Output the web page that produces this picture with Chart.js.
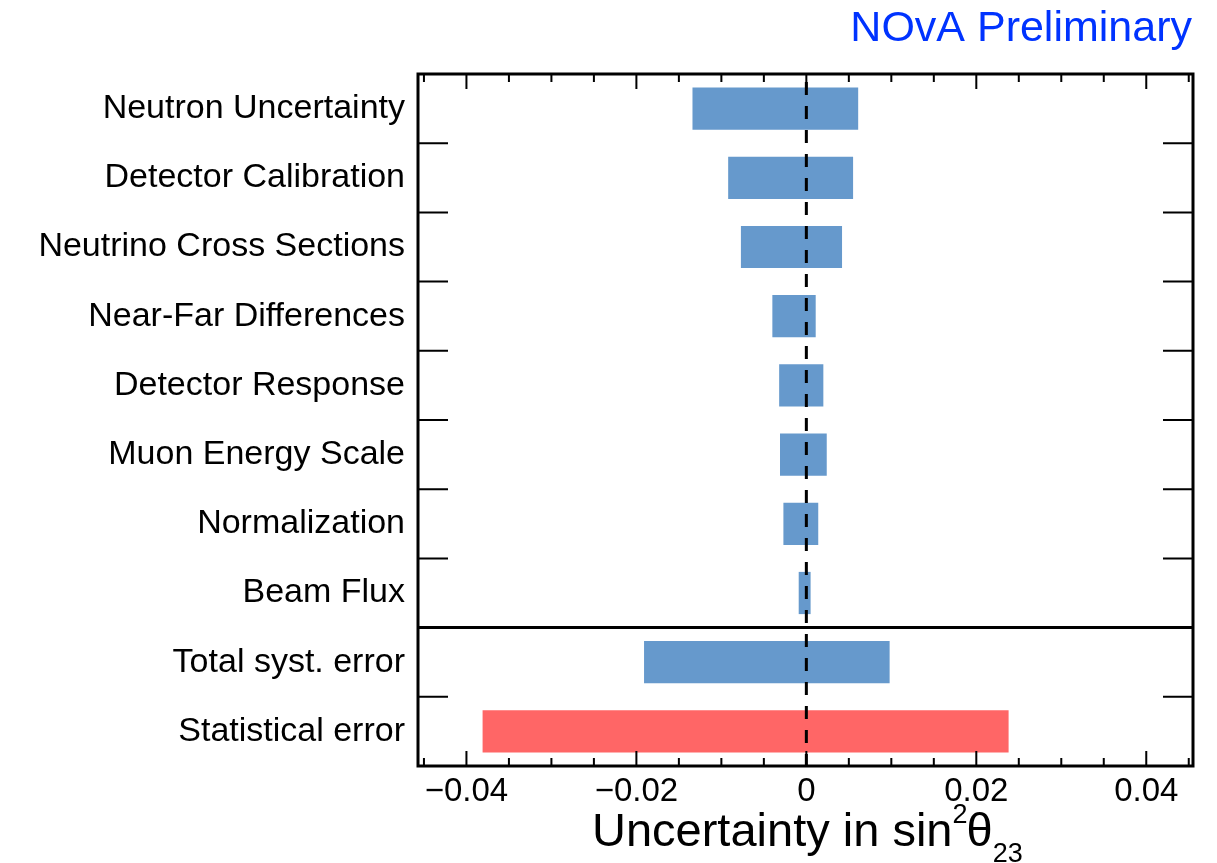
<!DOCTYPE html>
<html>
<head>
<meta charset="utf-8">
<script src="https://cdn.jsdelivr.net/npm/chart.js@4/dist/chart.umd.min.js"></script>
<style>
	html, body { margin: 0; padding: 0; background: #fff; }
</style>
</head>
<body>
<canvas id="chart" width="1217" height="863"></canvas>
<script>
/* ==========================================================================
 Data
 ========================================================================== */

const categories = [
	'Neutron Uncertainty',
	'Detector Calibration',
	'Neutrino Cross Sections',
	'Near-Far Differences',
	'Detector Response',
	'Muon Energy Scale',
	'Normalization',
	'Beam Flux',
	'Total syst. error',
	'Statistical error',
];
const lowerShift = [-0.0134, -0.0092, -0.0077, -0.0040, -0.0032, -0.0031, -0.0027, -0.0009, -0.0191, -0.0381];
const upperShift = [0.0061, 0.0055, 0.0042, 0.0011, 0.0020, 0.0024, 0.0014, 0.0005, 0.0098, 0.0238];
const xTicks = [-0.04, -0.02, 0, 0.02, 0.04];
const xTickLabels = ['\u22120.04', '\u22120.02', '0', '0.02', '0.04'];
const xRange = [-0.0457, 0.0455];

const SYST = '#6699cc';
const STAT = '#ff6666';
const FONT = "'Liberation Sans', Arial, Helvetica, sans-serif";

/* ==========================================================================
 Frame, ticks, zero line and titles
 ========================================================================== */

const framePlugin = {
	id: 'frame',
	afterDatasetsDraw(chart) {
		const {ctx, chartArea: a, scales: {x}} = chart;
		const x0 = x.getPixelForValue(0);
		ctx.save();
		ctx.strokeStyle = '#000';
		ctx.lineWidth = 3;
		ctx.setLineDash([13, 11]);
		ctx.lineDashOffset = 16;
		ctx.beginPath();
		ctx.moveTo(x0, a.top);
		ctx.lineTo(x0, a.bottom);
		ctx.stroke();
		ctx.restore();
	},
	afterDraw(chart) {
		const {ctx, chartArea: a, scales: {x, y}} = chart;
		ctx.save();
		ctx.strokeStyle = '#000';

		// inward ticks on the x axis, top and bottom
		ctx.lineWidth = 2;
		ctx.beginPath();
		for (let k = -9; k <= 9; k++) {
			const px = x.getPixelForValue(k * 0.005);
			const len = k % 4 === 0 ? 15 : 8;
			ctx.moveTo(px, a.bottom);
			ctx.lineTo(px, a.bottom - len);
			ctx.moveTo(px, a.top);
			ctx.lineTo(px, a.top + len);
		}
		ctx.stroke();

		// row boundaries on both sides
		ctx.beginPath();
		for (let i = 0; i < categories.length - 1; i++) {
			if (i === 7) continue;
			const py = (y.getPixelForValue(i) + y.getPixelForValue(i + 1)) / 2;
			ctx.moveTo(a.left, py);
			ctx.lineTo(a.left + 30, py);
			ctx.moveTo(a.right, py);
			ctx.lineTo(a.right - 30, py);
		}
		ctx.stroke();

		// separator between the systematics and the totals
		ctx.lineWidth = 3;
		const sep = (y.getPixelForValue(7) + y.getPixelForValue(8)) / 2;
		ctx.beginPath();
		ctx.moveTo(a.left, sep);
		ctx.lineTo(a.right, sep);
		ctx.stroke();

		ctx.strokeRect(a.left, a.top, a.right - a.left, a.bottom - a.top);

		// axis title with super- and subscripts
		ctx.fillStyle = '#000';
		ctx.textBaseline = 'alphabetic';
		ctx.textAlign = 'left';
		let tx = 592;
		const base = 846;
		ctx.font = '47px ' + FONT;
		ctx.fillText('Uncertainty in sin', tx, base);
		tx += ctx.measureText('Uncertainty in sin').width;
		ctx.font = '27px ' + FONT;
		ctx.fillText('2', tx, base - 23);
		tx += ctx.measureText('2').width - 1;
		ctx.font = '47px ' + FONT;
		ctx.fillText('\u03b8', tx, base);
		tx += ctx.measureText('\u03b8').width;
		ctx.font = '27px ' + FONT;
		ctx.fillText('23', tx, base + 16);

		// experiment tag
		ctx.font = '43px ' + FONT;
		ctx.fillStyle = '#0033ff';
		ctx.textAlign = 'right';
		ctx.fillText('NOvA Preliminary', 1192, 41);
		ctx.restore();
	},
};

/* ==========================================================================
 Config
 ========================================================================== */

const config = {
	type: 'bar',
	data: {
		labels: categories,
		datasets: [{
			data: categories.map((c, i) => [lowerShift[i], upperShift[i]]),
			backgroundColor: categories.map((c, i) => (i === categories.length - 1 ? STAT : SYST)),
			borderWidth: 0,
			barPercentage: 0.61,
			categoryPercentage: 1,
		}],
	},
	options: {
		indexAxis: 'y',
		responsive: false,
		animation: false,
		devicePixelRatio: 1,
		layout: {
			padding: {top: 74, right: 24, bottom: 0, left: 0},
		},
		scales: {
			x: {
				type: 'linear',
				min: xRange[0],
				max: xRange[1],
				afterBuildTicks(scale) {
					scale.ticks = xTicks.map(value => ({value}));
				},
				afterFit(scale) {
					scale.height = 97;
				},
				grid: {display: false},
				border: {display: false},
				ticks: {
					autoSkip: false,
					maxRotation: 0,
					padding: -2,
					color: '#000',
					font: {size: 33, family: FONT},
					callback: (value, index) => xTickLabels[index],
				},
			},
			y: {
				afterFit(scale) {
					scale.width = 418;
				},
				grid: {display: false},
				border: {display: false},
				ticks: {
					autoSkip: false,
					padding: 5,
					color: '#000',
					font: {size: 34, family: FONT},
				},
			},
		},
		plugins: {
			legend: {display: false},
			tooltip: {enabled: false},
		},
	},
	plugins: [framePlugin],
};

/* ==========================================================================
 Render
 ========================================================================== */

const myChart = new Chart(document.getElementById('chart'), config);
</script>
</body>
</html>
